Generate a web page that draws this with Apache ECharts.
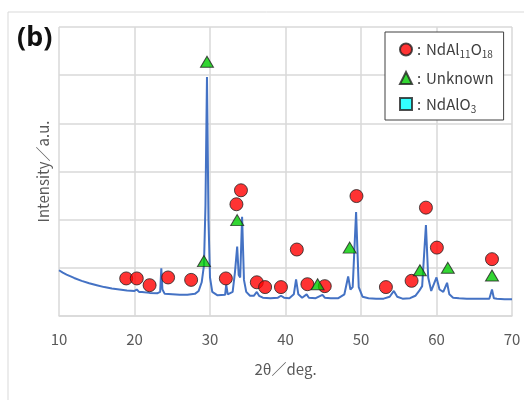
<!DOCTYPE html>
<html lang="ja">

<head>
  <meta charset="UTF-8">
  <title>XRD (b)</title>
  <script src="https://cdn.jsdelivr.net/npm/echarts@6/dist/echarts.min.js"></script>
  <style>
    html, body { margin: 0; padding: 0; background: #fff; }
  </style>
</head>

<body>
  <div id="main" style="width: 524px;height: 400px;"></div>
  <script>
    const myChart = echarts.init(document.getElementById('main'))

    // 2θ の目盛
    const xTicks = [10, 20, 30, 40, 50, 60, 70]

    // XRD パターン [2θ, 強度]
    const pattern = [
      [10.0, 0.95], [10.5, 0.90], [11, 0.86], [12, 0.79], [13, 0.73], [14, 0.68],
      [15, 0.64], [16, 0.60], [17, 0.57], [18, 0.55], [19, 0.53], [20, 0.52],
      [20.3, 0.55], [20.6, 0.50], [21, 0.50], [22, 0.48], [23, 0.47], [23.4, 0.50],
      [23.55, 0.99], [23.7, 0.55], [24, 0.46], [25, 0.45], [26, 0.44], [27, 0.44],
      [28, 0.46], [28.5, 0.52], [28.9, 0.70], [29.2, 1.05], [29.4, 2.3], [29.6, 4.96],
      [29.8, 2.0], [30.0, 0.80], [30.3, 0.50], [31, 0.43], [32, 0.44], [32.15, 0.65],
      [32.35, 0.45], [33, 0.50], [33.3, 0.90], [33.6, 1.44], [33.8, 0.85], [34.0, 0.80],
      [34.25, 2.06], [34.5, 0.75], [34.8, 0.50], [35.3, 0.42], [35.8, 0.42], [36.2, 0.50],
      [36.5, 0.42], [37, 0.38], [38, 0.37], [39, 0.38], [39.4, 0.42], [39.8, 0.38],
      [40.5, 0.37], [41.1, 0.45], [41.4, 0.76], [41.7, 0.45], [42.2, 0.38], [42.8, 0.45],
      [43.1, 0.38], [44, 0.37], [44.9, 0.44], [45.2, 0.38], [46, 0.37], [47, 0.37],
      [47.8, 0.45], [48.3, 0.82], [48.6, 0.55], [48.9, 0.60], [49.35, 2.16], [49.7, 0.60],
      [50.2, 0.40], [51, 0.37], [52, 0.36], [53, 0.36], [53.8, 0.40], [54.35, 0.52],
      [54.8, 0.40], [55.5, 0.36], [56.5, 0.37], [57.2, 0.42], [57.7, 0.52], [58.1, 0.62],
      [58.6, 1.89], [58.9, 0.80], [59.3, 0.52], [60.0, 0.80], [60.4, 0.55], [60.9, 0.50],
      [61.4, 0.69], [61.7, 0.45], [62.2, 0.38], [63, 0.37], [64, 0.36], [65, 0.36],
      [66, 0.36], [67, 0.36], [67.35, 0.55], [67.6, 0.37], [68, 0.36], [69, 0.35], [70, 0.35]
    ]

    // ●：NdAl11O18
    const ndal11o18 = [
      [18.9, 0.78], [20.3, 0.78], [22.0, 0.64], [24.45, 0.80], [27.5, 0.75], [32.1, 0.78],
      [33.5, 2.32], [34.1, 2.61], [36.2, 0.70], [37.3, 0.60], [39.4, 0.60], [41.5, 1.38],
      [42.9, 0.66], [45.2, 0.62], [49.4, 2.49], [53.3, 0.60], [56.7, 0.73], [58.6, 2.25],
      [60.05, 1.42], [67.35, 1.18]
    ]

    // ▲：Unknown
    const unknown = [
      [29.2, 1.14], [29.6, 5.28], [33.6, 1.99], [44.25, 0.66], [48.5, 1.42],
      [57.8, 0.95], [61.5, 1.00], [67.35, 0.84]
    ]

    // ■：NdAlO3（ピークなし）
    const ndalo3 = []

    const legendText = {
      NdAl11O18: '{c|:}NdAl{s|11}O{s|18}',
      Unknown: '{c|:}Unknown',
      NdAlO3: '{c|:}NdAlO{s|3}'
    }

    const font = '"Noto Sans CJK JP", "Noto Sans", sans-serif'

    const option = {
      animation: false,
      textStyle: { fontFamily: font },
      grid: { left: 59, right: 12, top: 27, bottom: 84 },
      graphic: [
        {
          type: 'rect',
          shape: { x: 8, y: 12, width: 530, height: 400 },
          style: { fill: 'none', stroke: '#d9d9d9', lineWidth: 1 },
          z: -1
        },
        {
          type: 'text',
          left: 17,
          top: 25,
          style: { text: '(b)', font: 'bold 27px "Noto Sans", sans-serif', fill: '#111' }
        }
      ],
      legend: {
        orient: 'vertical',
        left: 385,
        top: 32,
        padding: [10, 10, 6, 14],
        itemGap: 11,
        itemWidth: 12,
        itemHeight: 12,
        backgroundColor: '#fff',
        borderColor: '#404040',
        borderWidth: 1,
        data: ['NdAl11O18', 'Unknown', 'NdAlO3'],
        formatter: name => legendText[name],
        textStyle: {
          fontSize: 15,
          color: '#404040',
          fontFamily: font,
          rich: {
            c: { fontSize: 15, color: '#404040', width: 9, padding: [0, 0, 0, 0] },
            s: { fontSize: 10, color: '#404040', padding: [10, 0, 0, 0] }
          }
        }
      },
      xAxis: {
        type: 'value',
        min: xTicks[0],
        max: xTicks[xTicks.length - 1],
        interval: 10,
        name: '2θ／deg.',
        nameLocation: 'middle',
        nameGap: 46,
        nameTextStyle: { fontSize: 15, color: '#595959' },
        axisLine: { lineStyle: { color: '#d9d9d9', width: 1.5 } },
        axisTick: { show: false },
        axisLabel: { fontSize: 15, color: '#595959', margin: 16 },
        splitLine: { lineStyle: { color: '#d9d9d9', width: 1.5 } }
      },
      yAxis: {
        type: 'value',
        min: 0,
        max: 6,
        interval: 1,
        name: 'Intensity／a.u.',
        nameLocation: 'middle',
        nameGap: 8,
        nameTextStyle: { fontSize: 15, color: '#595959' },
        axisLine: { show: false },
        axisTick: { show: false },
        axisLabel: { show: false },
        splitLine: { lineStyle: { color: '#d9d9d9', width: 1.5 } }
      },
      series: [
        {
          type: 'line',
          name: 'pattern',
          data: pattern,
          showSymbol: false,
          lineStyle: { color: '#4472c4', width: 2 },
          z: 2
        },
        {
          type: 'scatter',
          name: 'NdAl11O18',
          data: ndal11o18,
          symbol: 'circle',
          symbolSize: 13,
          itemStyle: { color: '#ff0000', borderColor: '#222', borderWidth: 1 },
          z: 3
        },
        {
          type: 'scatter',
          name: 'Unknown',
          data: unknown,
          symbol: 'triangle',
          symbolSize: [13, 11],
          itemStyle: { color: '#00cc00', borderColor: '#222', borderWidth: 1 },
          z: 3
        },
        {
          type: 'scatter',
          name: 'NdAlO3',
          data: ndalo3,
          symbol: 'rect',
          symbolSize: 12,
          itemStyle: { color: '#00ffff', borderColor: '#222', borderWidth: 1 },
          z: 3
        }
      ]
    }

    myChart.setOption(option)
  </script>
</body>

</html>
